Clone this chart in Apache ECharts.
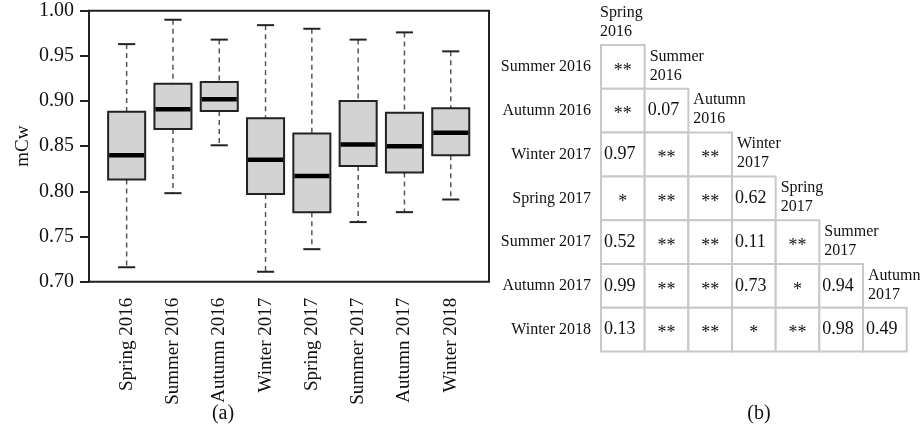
<!DOCTYPE html>
<html>
<head>
<meta charset="utf-8">
<script src="https://cdn.jsdelivr.net/npm/echarts@6/dist/echarts.min.js"></script>
<style>
  html, body { margin: 0; background: #fff; }
  #chart { width: 922px; height: 440px; }
</style>
</head>
<body>
<div id="chart"></div>
<script>
// (a) mCw per season
const seasons = ['Spring 2016', 'Summer 2016', 'Autumn 2016', 'Winter 2017',
                 'Spring 2017', 'Summer 2017', 'Autumn 2017', 'Winter 2018']
const whiskerLow  = [0.716, 0.798, 0.851, 0.711, 0.736, 0.766, 0.777, 0.791]
const quart1      = [0.813, 0.869, 0.889, 0.797, 0.777, 0.828, 0.821, 0.840]
const medians     = [0.840, 0.891, 0.902, 0.835, 0.817, 0.852, 0.850, 0.865]
const quart3      = [0.888, 0.919, 0.921, 0.881, 0.864, 0.900, 0.887, 0.892]
const whiskerHigh = [0.963, 0.990, 0.968, 0.984, 0.980, 0.968, 0.976, 0.955]
const yTicks = [0.70, 0.75, 0.80, 0.85, 0.90, 0.95, 1.00]

// (b) pairwise test results, lower triangle
const tableCols = ['Spring\n2016', 'Summer\n2016', 'Autumn\n2016', 'Winter\n2017',
                   'Spring\n2017', 'Summer\n2017', 'Autumn\n2017']
const tableRows = ['Summer 2016', 'Autumn 2016', 'Winter 2017', 'Spring 2017',
                   'Summer 2017', 'Autumn 2017', 'Winter 2018']
const pValues = [
  ['**'],
  ['**', '0.07'],
  ['0.97', '**', '**'],
  ['*', '**', '**', '0.62'],
  ['0.52', '**', '**', '0.11', '**'],
  ['0.99', '**', '**', '0.73', '*', '0.94'],
  ['0.13', '**', '**', '*', '**', '0.98', '0.49'],
]

const FONT = '"Liberation Serif", "Times New Roman", serif'
const INK = '#111'

const boxData = seasons.map((s, i) =>
  [i, whiskerLow[i], quart1[i], medians[i], quart3[i], whiskerHigh[i]])

// cells: [col, row on axis (row 0 is the header row), text]
const cellData = []
pValues.forEach((row, r) => row.forEach((t, c) => cellData.push([c, r + 1, t])))
const headerData = tableCols.map((t, c) => [c, c, t])

const chart = echarts.init(document.getElementById('chart'))
chart.setOption({
  animation: false,
  textStyle: { fontFamily: FONT },
  title: [
    { text: '(a)', left: 218, top: 399, textAlign: 'center',
      textStyle: { fontFamily: FONT, fontSize: 20, fontWeight: 'normal', color: INK } },
    { text: '(b)', left: 754, top: 399, textAlign: 'center',
      textStyle: { fontFamily: FONT, fontSize: 20, fontWeight: 'normal', color: INK } },
  ],
  grid: [
    // frame + y axis
    { left: 89, top: 10.7, width: 400, height: 271, show: true,
      borderColor: '#222', borderWidth: 2, backgroundColor: 'transparent' },
    // boxes, inset so categories sit like R's default xlim
    { left: 103.5, top: 10.7, width: 370.4, height: 271 },
    // table
    { left: 601, top: 1.2, width: 305.7, height: 350.4 },
  ],
  xAxis: [
    { gridIndex: 0, type: 'value', show: false, min: 0, max: 1 },
    { gridIndex: 1, type: 'category', data: seasons, boundaryGap: true,
      axisLine: { show: false },
      axisTick: { alignWithLabel: true, length: 8, lineStyle: { color: '#222', width: 2 } },
      axisLabel: { rotate: 90, fontSize: 19, color: INK, margin: 16, fontFamily: FONT } },
    { gridIndex: 2, type: 'category', data: tableCols, show: false },
  ],
  yAxis: [
    { gridIndex: 0, type: 'value', min: yTicks[0], max: yTicks[yTicks.length - 1], interval: 0.05,
      name: 'mCw', nameLocation: 'middle', nameGap: 56, nameRotate: 90,
      nameTextStyle: { fontSize: 19, color: INK, fontFamily: FONT },
      axisLine: { show: true, lineStyle: { color: '#222', width: 2 } },
      axisTick: { show: true, length: 9, lineStyle: { color: '#222', width: 2 } },
      axisLabel: { fontSize: 20, color: INK, margin: 15, fontFamily: FONT,
                   formatter: v => v.toFixed(2) },
      splitLine: { show: false } },
    { gridIndex: 1, type: 'value', min: yTicks[0], max: yTicks[yTicks.length - 1], show: false },
    { gridIndex: 2, type: 'category', data: [''].concat(tableRows), inverse: true,
      axisLine: { show: false }, axisTick: { show: false },
      axisLabel: { fontSize: 16, color: INK, margin: 10, fontFamily: FONT } },
  ],
  series: [
    {
      type: 'custom', xAxisIndex: 1, yAxisIndex: 1, data: boxData,
      renderItem(params, api) {
        const i = api.value(0)
        const x = api.coord([i, 0.8])[0]
        const band = api.size([1, 0])[0]
        const bw = band * 0.8, cw = band * 0.37
        const y = k => api.coord([i, api.value(k)])[1]
        const yLo = y(1), yQ1 = y(2), yMed = y(3), yQ3 = y(4), yHi = y(5)
        const dash = { stroke: '#555', lineWidth: 1.5, lineDash: [5, 4] }
        const solid = { stroke: '#222', lineWidth: 2 }
        return {
          type: 'group',
          children: [
            { type: 'line', shape: { x1: x, y1: yHi, x2: x, y2: yQ3 }, style: dash },
            { type: 'line', shape: { x1: x, y1: yQ1, x2: x, y2: yLo }, style: dash },
            { type: 'line', shape: { x1: x - cw / 2, y1: yHi, x2: x + cw / 2, y2: yHi }, style: solid },
            { type: 'line', shape: { x1: x - cw / 2, y1: yLo, x2: x + cw / 2, y2: yLo }, style: solid },
            { type: 'rect', shape: { x: x - bw / 2, y: yQ3, width: bw, height: yQ1 - yQ3 },
              style: { fill: '#d3d3d3', stroke: '#222', lineWidth: 2 } },
            { type: 'line', shape: { x1: x - bw / 2 + 1, y1: yMed, x2: x + bw / 2 - 1, y2: yMed },
              style: { stroke: '#000', lineWidth: 4.5 } },
          ],
        }
      },
    },
    {
      type: 'custom', xAxisIndex: 2, yAxisIndex: 2, data: cellData,
      renderItem(params, api) {
        const item = cellData[params.dataIndex]
        const [cx, cy] = api.coord([item[0], item[1]])
        const [w, h] = api.size([1, 1])
        const star = item[2].indexOf('*') >= 0
        return {
          type: 'group',
          children: [
            { type: 'rect', shape: { x: cx - w / 2, y: cy - h / 2, width: w, height: h },
              style: { fill: '#fff', stroke: '#c8c8c8', lineWidth: 2 } },
            { type: 'text', z2: 10,
              style: { text: item[2], x: star ? cx : cx - w / 2 + 3, y: star ? cy + 4 : cy,
                       textAlign: star ? 'center' : 'left', textVerticalAlign: 'middle',
                       font: '18px ' + FONT, fill: INK } },
          ],
        }
      },
    },
    {
      type: 'custom', xAxisIndex: 2, yAxisIndex: 2, data: headerData,
      renderItem(params, api) {
        const item = headerData[params.dataIndex]
        const [cx, cy] = api.coord([item[0], item[1]])
        const [w] = api.size([1, 1])
        return {
          type: 'text',
          style: { text: item[2], x: cx - w / 2 + (item[0] === 0 ? -1 : 5), y: cy - 1,
                   textAlign: 'left', textVerticalAlign: 'middle', lineHeight: 19,
                   font: '16px ' + FONT, fill: INK },
        }
      },
    },
  ],
})
</script>
</body>
</html>
